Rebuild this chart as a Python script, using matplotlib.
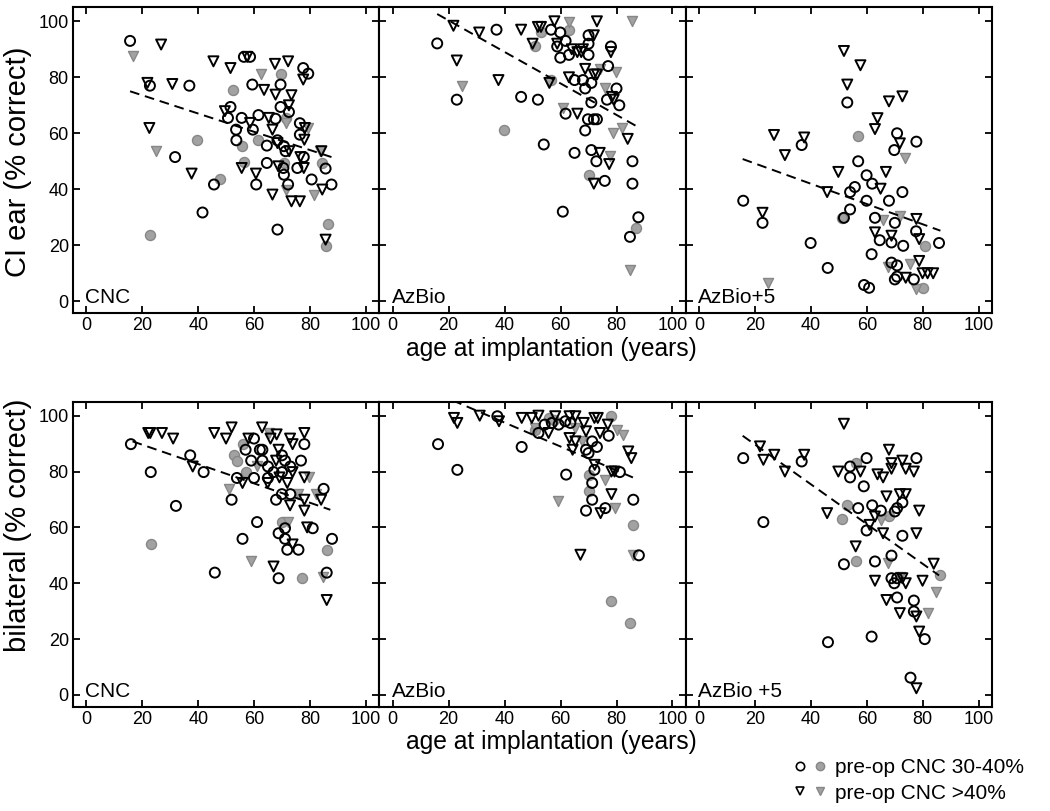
import matplotlib
matplotlib.use("Agg")
import matplotlib.pyplot as plt
from matplotlib.legend_handler import HandlerTuple
from matplotlib.lines import Line2D

plt.rcParams['font.family'] = ['Liberation Sans', 'DejaVu Sans']

# ---- data: (age, % correct) ----
# row 1: CI ear, CNC
ci_cnc_open_c = [(15.6,93),(22.7,77),(36.8,77),(31.7,51.5),(41.5,31.7),(45.6,41.7),(51.5,69.4),(50.6,65.5),
                 (55.5,65.5),(53.5,61.3),(53.6,57.5),(56.3,87.3),(58.5,87.3),(59.3,77.4),(61.5,66.5),(59.5,61.3),
                 (60.7,41.7),(64.5,55.6),(64.5,49.4),(67.6,65.2),(69.4,69.4),(69.4,77.4),(68.3,57.5),(68.3,25.6),
                 (72.4,67.6),(70.6,55.4),(70.4,47.6),(70.6,45.2),(72.1,41.7),(75.4,47.6),(76.3,63.6),(76.3,59.5),
                 (77.7,51.5),(77.5,83.3),(79.3,81.3),(80.5,43.5),(85.5,47.4),(87.6,41.7),(71.2,53.6)]
ci_cnc_gray_c = [(22.7,23.6),(39.6,57.5),(47.7,43.5),(52.5,75.4),(55.5,55.4),(56.5,49.6),(61.5,57.5),(69.5,81.3),
                 (70.6,49.4),(71.5,65.5),(84.3,49.4),(86.4,27.7),(85.5,19.6)]
ci_cnc_open_t = [(21.8,78),(26.7,91.7),(30.7,77.6),(22.5,61.9),(37.6,45.6),(45.4,85.7),(51.5,83.3),(49.5,67.9),
                 (55.5,47.6),(57.5,87.3),(58.5,63.7),(60.6,45.6),(63.5,75.5),(65.2,65.5),(66.5,61.3),(67.4,84.8),
                 (67.6,73.8),(66.5,38.1),(68.3,56.5),(68.6,48.2),(72.1,85.7),(72.4,70.0),(73.3,73.6),(73.3,35.7),
                 (76.3,35.7),(76.5,51.5),(77.5,79.2),(78.1,61.9),(77.9,57.7),(77.7,47.6),(84.0,53.6),(84.3,39.9),
                 (85.5,22.0),(72.5,53.6)]
ci_cnc_gray_t = [(16.8,87.5),(24.8,53.6),(62.4,81.3),(71.5,63.7),(71.5,39.6),(79.3,61.9),(81.4,38.1),(83.5,53.6)]
ci_cnc_fit = [(15.6,75),(87.6,51.5)]

# row 1: CI ear, AzBio
ci_az_open_c = [(15.9,92.1),(22.9,72),(37.1,97),(45.9,73),(51.9,72),(54,56),(56.6,97),(59.9,96),(61.8,93),
                (58.8,91),(59.9,87),(63,88),(65,79),(68,79),(68.8,76),(70,95),(70,92),(70,88),(71,78),(71,71),
                (61.8,67),(69.8,65),(71.9,65),(73,65),(68.8,61),(65,53),(71,54),(72.8,50),(75.8,43),(76.6,72),
                (77,84),(78,91),(80,76),(81,70),(85.7,50),(85.7,42),(60.8,32),(87.8,30),(84.8,23)]
ci_az_gray_c = [(39.9,61),(51,91),(53,96),(63,97),(70,45),(56.6,79),(86.9,26)]
ci_az_open_t = [(21.7,98.4),(22.9,86),(30.9,96),(37.8,79),(45.9,97),(51.9,98),(53,98),(50,92),(57.8,100),
                (58.8,92),(63,80),(64,90),(66,89),(67.4,89),(68,90),(68.8,83),(71.9,81),(73,81),(71.9,95),
                (73,100),(78,89),(78.4,73),(79,72),(66,67),(56,78),(74,53),(77.4,49),(71.9,42),(84,58)]
ci_az_gray_t = [(24.9,77),(60.8,69),(63,99.6),(74,83),(79.8,82),(75.8,76),(78.8,60),(81.8,62),(77.8,52),
                (85.7,100),(84.8,11)]
ci_az_fit = [(15.9,102.6),(88.1,62)]

# row 1: CI ear, AzBio+5
ci_az5_open_c = [(15.8,35.9),(22.7,28),(39.9,20.8),(36.7,55.8),(46,11.9),(53,71),(56.9,50),(55.7,40.8),(54,39),
                 (54,32.8),(51.8,29.8),(59.9,45),(61.9,42),(59.9,35.9),(62.9,29.8),(67.9,35.9),(72.7,39),(70.8,60),
                 (69.8,54),(77.7,57),(70,28),(77.6,25),(64.6,21.8),(68.8,21),(73,19.8),(61.7,16.8),(68.8,13.8),
                 (70.8,12.8),(70,7.8),(70.8,8.8),(76.8,7.8),(59,5.8),(60.8,4.8),(85.8,20.8)]
ci_az5_gray_c = [(56.9,59),(51,29.8),(80.7,19.8),(79.9,4.8)]
ci_az5_open_t = [(51.8,89.4),(57.7,84.3),(53,77.4),(67.9,71.4),(72.7,73.2),(63.8,65.4),(62.9,61.5),(71.8,56.4),
                 (26.8,59.4),(37.6,58.5),(30.7,52.2),(49.8,46.2),(66.8,46.2),(64.9,40.2),(45.8,39),(22.7,31.6),
                 (77.7,29.4),(62.9,24.6),(68.8,23.4),(78.7,22.2),(78.7,14.4),(79.9,10),(81.7,10),(83.7,10),(73.9,8.4)]
ci_az5_gray_t = [(73.8,51),(65.8,29),(71.8,30.4),(67.6,12.2),(75.6,13.2),(77.7,4.2),(24.5,6.4)]
ci_az5_fit = [(15.6,50.8),(86.3,25.2)]

# row 2: bilateral, CNC
bi_cnc_open_c = [(15.9,89.8),(23,79.8),(32,67.7),(37.1,85.8),(41.9,79.8),(45.9,43.8),(51.9,69.9),(53.8,77.7),
                 (55.8,55.9),(56.9,87.8),(59.9,91.8),(58.9,83.9),(59.9,77.7),(61,61.9),(62,87.8),(62.9,87.8),
                 (62.9,83.9),(64.9,81.8),(64.9,77.7),(66.9,79.8),(67.8,69.9),(69.9,85.8),(69.9,79.8),(71,83.9),
                 (69.9,71.9),(72.9,81.8),(72.9,71.9),(71,59.7),(68.7,57.9),(71,55.9),(71.8,52),(75.8,52),
                 (68.7,41.8),(76.7,83.9),(77.9,89.8),(80.9,59.7),(84.8,73.8),(85.9,43.8),(87.8,55.9)]
bi_cnc_gray_c = [(23,53.9),(52.9,85.8),(54,83.9),(55.8,89.8),(56.9,79.8),(69.9,61.9),(77,41.8),(85.9,52)]
bi_cnc_open_t = [(22.1,93.8),(22.8,93.8),(27,93.8),(31,91.8),(38,81.8),(45.7,93.8),(49.9,91.8),(51.9,95.8),
                 (57.9,91.8),(55.8,75.9),(62.8,95.8),(65.8,91.8),(68,93.3),(72.8,91.8),(73.7,89.8),(77.9,93.8),
                 (68.7,87.8),(67.8,83.9),(69,77.9),(73.7,79.8),(64.8,75.9),(71.8,75.9),(77.9,77.9),(72.8,67.9),
                 (77.9,69.9),(77.9,66),(83.9,69.9),(78.9,60),(73.7,53.9),(66.9,46),(85.9,34)]
bi_cnc_gray_t = [(51,73.8),(59,47.8),(65.2,93.8),(61,81.8),(79.7,77.9),(75.8,71.9),(81.9,71.9),(71.9,61.9),(84.7,42.4)]
bi_cnc_fit = [(16.5,90.8),(87.2,66.3)]

# row 2: bilateral, AzBio
bi_az_open_c = [(16.2,89.8),(23.1,80.6),(37.4,99.8),(46.1,88.8),(52.1,93.8),(54.3,96.8),(56.9,97.4),(59.3,96.8),
                (61.7,98),(63.5,97.4),(62,78.9),(69.1,87.8),(70,86.6),(71.3,90.8),(72.1,80.6),(73,88.8),(71.3,75.9),
                (71.3,69.9),(69.1,66),(76,66.9),(77.2,92.8),(81.2,79.8),(86,69.9),(88,50)]
bi_az_gray_c = [(56,99),(57.5,98.5),(70,78.9),(70,72.9),(78.2,99.8),(86,60.9),(78.2,33.8),(85,25.9),(50.7,95)]
bi_az_open_t = [(21.9,99.2),(23.1,97.4),(31.1,100),(38,98),(46.1,99.2),(49.7,99.2),(52.1,100),(55.7,93.8),
                (58.1,99.8),(63.2,99.8),(65.3,99.8),(68.3,97.4),(69.1,94.4),(72.1,99.2),(73.3,99.2),(74.1,93.8),
                (76.9,96.8),(63.2,92),(65.3,90.8),(64.3,87.8),(72.2,82.4),(78.2,80),(79.3,80),(84.2,87.2),
                (85.3,84.8),(78.2,71.9),(74.3,65.1),(67.1,50.2)]
bi_az_gray_t = [(59,69.3),(65.3,95.6),(67.7,90.8),(76,77.1),(79.3,66.9),(80,95),(82.3,93.2),(86,50.2),(50.9,95.6)]
bi_az_fit = [(16.2,107.7),(87.2,77.3)]

# row 2: bilateral, AzBio +5
bi_az5_open_c = [(15.8,84.8),(23,61.9),(36.7,83.6),(46.1,18.9),(51.8,46.8),(54,81.8),(54,77.9),(56.9,66.9),
                 (58.9,74.7),(59.9,84.8),(59.9,58.9),(61.9,67.9),(65,66),(62.9,47.8),(61.7,20.9),(68.8,49.9),
                 (68.8,41.8),(69.8,40),(70.8,41.8),(70,65.7),(70.8,66.9),(72.7,68.9),(72.7,57),(70.8,34.9),
                 (76.8,33.8),(76.8,29.9),(77.7,84.8),(80.7,20),(75.6,6.2)]
bi_az5_gray_c = [(56,83),(53,67.9),(51,63),(67.9,63.9),(56,47.8),(86,43)]
bi_az5_open_t = [(51.8,97.1),(21.8,89),(23,84.2),(26.9,86),(37.6,86),(30.7,80),(45.8,65.1),(49.8,80),(57.7,80),
                 (63.8,79),(65.8,77.9),(67.9,87.8),(68.8,83),(68.8,81),(72.7,83.9),(73.9,81),(76.8,80),(67,71.1),
                 (71.8,71.9),(73.9,71.9),(78.7,66),(62.9,63.9),(61,60.9),(65.8,57.9),(77.7,57.9),(56,53.2),
                 (83.9,47),(62.9,40.9),(72.7,41.8),(73.9,40),(79.9,40.9),(67,34),(71.8,29.3),(77.7,28.1),
                 (78.7,22.7),(77.7,2.4)]
bi_az5_gray_t = [(64.9,62.7),(67.6,47.2),(71.8,42.4),(81.7,29.3),(84.6,37)]
bi_az5_fit = [(15.6,92.8),(85.8,42.8)]

panel_names = ["CNC", "AzBio", "AzBio+5", "CNC", "AzBio", "AzBio +5"]
row_labels = ["CI ear (% correct)", "bilateral (% correct)"]
ticks = [0, 20, 40, 60, 80, 100]

panels = [
    (ci_cnc_open_c, ci_cnc_gray_c, ci_cnc_open_t, ci_cnc_gray_t, ci_cnc_fit),
    (ci_az_open_c, ci_az_gray_c, ci_az_open_t, ci_az_gray_t, ci_az_fit),
    (ci_az5_open_c, ci_az5_gray_c, ci_az5_open_t, ci_az5_gray_t, ci_az5_fit),
    (bi_cnc_open_c, bi_cnc_gray_c, bi_cnc_open_t, bi_cnc_gray_t, bi_cnc_fit),
    (bi_az_open_c, bi_az_gray_c, bi_az_open_t, bi_az_gray_t, bi_az_fit),
    (bi_az5_open_c, bi_az5_gray_c, bi_az5_open_t, bi_az5_gray_t, bi_az5_fit),
]

GRAY_FILL = "#a2a2a2"
GRAY_EDGE = "#878787"
MS = 52

W, H = 1050, 811
fig = plt.figure(figsize=(W / 100, H / 100), dpi=100)

left0, width = 73 / W, 306.3 / W
row_pos = [(1 - 313 / H, 305.7 / H), (1 - 706.7 / H, 305 / H)]


def xy(pts):
    return [p[0] for p in pts], [p[1] for p in pts]


for i, (oc, gc, ot, gt, fit) in enumerate(panels):
    r, c = divmod(i, 3)
    ax = fig.add_axes([left0 + c * width, row_pos[r][0], width, row_pos[r][1]])

    ax.scatter(*xy(gc), s=MS, marker="o", facecolor=GRAY_FILL, edgecolor=GRAY_EDGE, linewidth=1.0, zorder=2)
    ax.scatter(*xy(gt), s=MS, marker="v", facecolor=GRAY_FILL, edgecolor=GRAY_EDGE, linewidth=1.0, zorder=2)
    ax.scatter(*xy(oc), s=MS, marker="o", facecolor="none", edgecolor="black", linewidth=1.4, zorder=3)
    ax.scatter(*xy(ot), s=MS, marker="v", facecolor="none", edgecolor="black", linewidth=1.4, zorder=3)
    ax.plot(*xy(fit), color="black", linestyle=(0, (5, 3)), linewidth=1.4, zorder=4)

    ax.set_xlim(-4.8, 104.7)
    ax.set_ylim(-4.2, 105.0)
    ax.set_xticks(ticks)
    ax.set_yticks(ticks)
    ax.tick_params(direction="in", length=5, width=1.3, top=True, right=True,
                   labelsize=13, pad=3)
    if c > 0:
        ax.tick_params(labelleft=False)
    for sp in ax.spines.values():
        sp.set_linewidth(1.5)
    ax.text(0.04, 0.018, panel_names[i], transform=ax.transAxes, fontsize=15,
            ha="left", va="bottom")

# axis titles
fig.text(18 / W, 1 - 162 / H, row_labels[0], rotation=90, fontsize=21, ha="center", va="center")
fig.text(18 / W, 1 - 525 / H, row_labels[1], rotation=90, fontsize=21, ha="center", va="center")
fig.text(551 / W, 1 - 349 / H, "age at implantation (years)", fontsize=17.7, ha="center", va="center")
fig.text(551 / W, 1 - 742 / H, "age at implantation (years)", fontsize=17.7, ha="center", va="center")

h1 = (Line2D([], [], marker="o", ls="none", mfc="none", mec="black", mew=1.2, ms=6),
      Line2D([], [], marker="o", ls="none", mfc=GRAY_FILL, mec=GRAY_EDGE, ms=6))
h2 = (Line2D([], [], marker="v", ls="none", mfc="none", mec="black", mew=1.2, ms=6),
      Line2D([], [], marker="v", ls="none", mfc=GRAY_FILL, mec=GRAY_EDGE, ms=6))
fig.legend([h1, h2], ["pre-op CNC 30-40%", "pre-op CNC >40%"],
           handler_map={tuple: HandlerTuple(ndivide=None, pad=0.4)},
           loc="upper left", bbox_to_anchor=(784 / W, 1 - 748 / H),
           frameon=False, fontsize=15, handlelength=1.5, handletextpad=0.45,
           labelspacing=0.3, borderpad=0)

fig.savefig("out.png", dpi=100)
